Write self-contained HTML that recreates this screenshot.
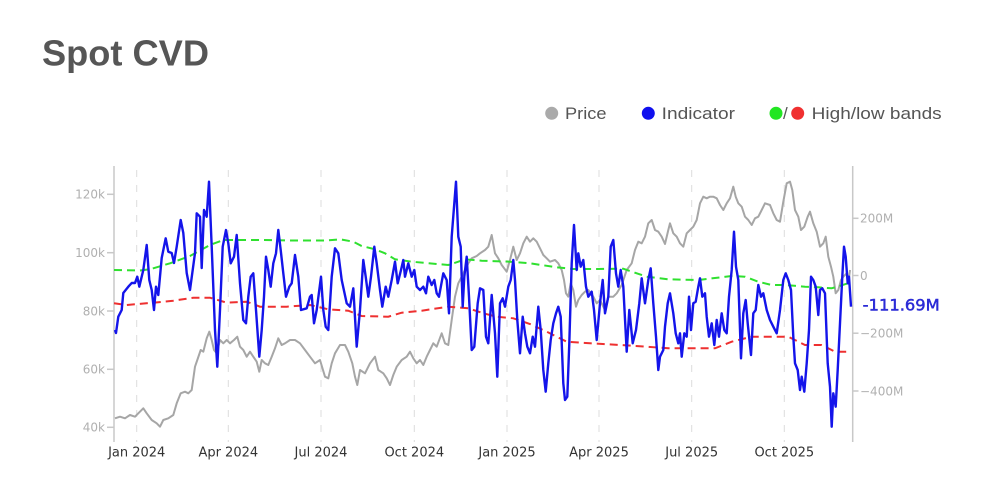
<!DOCTYPE html>
<html>
<head>
<meta charset="utf-8">
<style>
html,body{margin:0;padding:0;background:#fff;}
body{width:992px;height:496px;overflow:hidden;}
svg{display:block;}
</style>
</head>
<body>
<svg width="992" height="496" viewBox="0 0 992 496" xmlns="http://www.w3.org/2000/svg">
<rect width="992" height="496" fill="#fff"/>
<text x="42" y="65.5" font-family="Liberation Sans, Arial, sans-serif" font-weight="bold" font-size="36" fill="#565656" textLength="167" lengthAdjust="spacingAndGlyphs">Spot CVD</text>

<!-- legend -->
<g font-family="Liberation Sans, Arial, sans-serif" font-size="17" fill="#555">
<circle cx="551.7" cy="113.3" r="6.5" fill="#aaaaaa"/>
<text x="565" y="119.2" textLength="41.5" lengthAdjust="spacingAndGlyphs">Price</text>
<circle cx="648.3" cy="113.3" r="6.5" fill="#1010ee"/>
<text x="661.7" y="119.2" textLength="73.3" lengthAdjust="spacingAndGlyphs">Indicator</text>
<circle cx="776" cy="113.3" r="6.5" fill="#22e622"/>
<text x="783" y="119.2">/</text>
<circle cx="797.7" cy="113.3" r="6.5" fill="#f03030"/>
<text x="811.7" y="119.2" textLength="130" lengthAdjust="spacingAndGlyphs">High/low bands</text>
</g>

<!-- gridlines -->
<g stroke="#dcdcdc" stroke-width="1" stroke-dasharray="7,8">
<line x1="136.7" y1="170" x2="136.7" y2="442"/>
<line x1="228.3" y1="170" x2="228.3" y2="442"/>
<line x1="321" y1="170" x2="321" y2="442"/>
<line x1="414.3" y1="170" x2="414.3" y2="442"/>
<line x1="507" y1="170" x2="507" y2="442"/>
<line x1="599" y1="170" x2="599" y2="442"/>
<line x1="691.7" y1="170" x2="691.7" y2="442"/>
<line x1="784.3" y1="170" x2="784.3" y2="442"/>
</g>

<!-- axes -->
<g stroke="#c8c8c8" stroke-width="1.5">
<line x1="114" y1="166" x2="114" y2="442"/>
<line x1="852.7" y1="166" x2="852.7" y2="442"/>
<line x1="107" y1="194.3" x2="114" y2="194.3"/>
<line x1="107" y1="252.7" x2="114" y2="252.7"/>
<line x1="107" y1="311" x2="114" y2="311"/>
<line x1="107" y1="369.3" x2="114" y2="369.3"/>
<line x1="107" y1="427.3" x2="114" y2="427.3"/>
<line x1="852.7" y1="218.3" x2="858.5" y2="218.3"/>
<line x1="852.7" y1="275.5" x2="858.5" y2="275.5"/>
<line x1="852.7" y1="333.2" x2="858.5" y2="333.2"/>
<line x1="852.7" y1="391" x2="858.5" y2="391"/>
</g>
<g font-family="DejaVu Sans, Verdana, sans-serif" font-size="12" fill="#b0b0b0">
<text x="105" y="198.6" text-anchor="end">120k</text>
<text x="105" y="257" text-anchor="end">100k</text>
<text x="105" y="315.3" text-anchor="end">80k</text>
<text x="105" y="373.6" text-anchor="end">60k</text>
<text x="105" y="431.6" text-anchor="end">40k</text>
<text x="860" y="222.6">200M</text>
<text x="860" y="279.8">0</text>
<text x="860" y="337.5">−200M</text>
<text x="860" y="395.3">−400M</text>
</g>
<g font-family="DejaVu Sans, Verdana, sans-serif" font-size="13" fill="#333" text-anchor="middle">
<text x="136.7" y="456.5">Jan 2024</text>
<text x="228.3" y="456.5">Apr 2024</text>
<text x="321" y="456.5">Jul 2024</text>
<text x="414.3" y="456.5">Oct 2024</text>
<text x="507" y="456.5">Jan 2025</text>
<text x="599" y="456.5">Apr 2025</text>
<text x="691.7" y="456.5">Jul 2025</text>
<text x="784.3" y="456.5">Oct 2025</text>
</g>

<!-- price -->
<polyline fill="none" stroke="#a6a6a6" stroke-width="2" stroke-linejoin="round" points="115,418.3 120,416.7 125,418.3 130,415 135,416.7 138.3,413.3 143.3,408.3 146.7,413.3 151.7,420 156.7,423.3 160,426.7 163.3,420 168.3,418.3 173.3,415 176.7,403.3 180.7,393.3 185,391.7 188.3,393.3 191.7,390 195,366.7 197.3,360 200.7,350 203.3,351.7 206.7,338.3 209.3,331.7 211.7,340 214,350 216.7,353.3 220,340 223.3,343.3 226.7,340 230,343.3 234,340 237.3,336.7 240,346.7 243.3,350 246.7,356.7 250,351.7 253.3,356.7 256.7,361.7 259.3,371.7 261.7,360 265,363.3 268.3,365 271.7,356.7 275,348.3 278.3,338.3 281.7,345 285,343.3 290,340 295,340 300,343.3 305,350 310,356.7 315,363.3 320,360 325,376.7 328.3,378.3 331.7,363.3 335,353.3 340,345 345,345 348.3,351.7 352.3,363.3 355,376.7 357.3,385 360,370 365,373.3 370,363.3 375,356.7 378.3,370 383.3,373.3 386.7,378.3 390,385 393.3,375 396.7,366.7 401.7,360 406.7,356.7 410,351.7 413.3,358.3 416.7,363.3 420,360 423.3,365 426.7,356.7 430,350 433.3,343.3 436.7,346.7 441.7,333.3 445,343.3 448.3,345 451.7,320 455,296.7 458.3,283.3 461.7,276.7 465,270 468.3,263.3 471.7,258.3 476.7,256 480,253.3 485,250 488.3,246.7 491.7,235 495,253.3 498.3,258.3 501.7,265 506.7,271.7 510,260 513.3,246.7 516.7,260 520,253.3 523.3,243.3 526.7,236.7 530,241.7 533.3,238.3 536.7,241.7 540,248.3 543.3,255 546.7,258.3 550,261.7 555,260 558.3,263.3 561.7,270 564,280 566,293.3 568.3,296.7 570.7,283.3 573.3,290 576,306.7 578.3,300 581.7,295 585,291.7 588.3,290 593.3,296.7 596.7,303.3 600,300 605,310 608.3,296.7 613.3,296.7 616.7,293.3 621.7,285 626.7,270 631.7,263.3 635,250 638.3,241.7 641.7,243.3 645,236.7 648.3,223.3 651.7,220 655,230 658.3,231.7 661.7,236.7 665,244 668.3,230 670,223.3 673.3,233.3 676.7,236.7 680,243.3 683.3,246.7 686.7,233.3 690,230 693.3,226.7 696.7,220 700,203.3 703.3,196.7 706.7,198.3 710,196.7 713.3,196.7 716.7,198.3 720,205 723.3,210 726.7,203.3 730,198.3 733.3,186.7 735.7,196.7 738.3,203.3 741.7,206.7 745,216.7 748.3,220 751.7,225 755,218.3 758.3,216.7 761.7,210 765,203.3 770,205 773.3,213.3 776.7,220 780,221.7 783.3,201.7 786.7,183.3 790,181.7 792.3,190 795,210 798.3,216.7 801,230 804.3,226.7 807.7,216.7 810,211.7 813.3,223.3 816.7,231.7 820,246.7 823.3,243.3 825.7,236.7 828.3,256.7 831,266.7 833.3,276.7 835.7,293.3 838.3,290 841,280 843.3,276.7 846.7,273.3 848.3,283.3 850,270"/>

<!-- bands -->
<polyline fill="none" stroke="#2fe02f" stroke-width="2" stroke-dasharray="8,5" points="114,270 140,270.5 150,269.3 170,263.3 190,256 210,245 223.3,240 260,240 293.3,240.5 326.7,240.5 340,239.3 353.3,241.7 361.7,246 375,249.3 385,253.3 395,259.3 411.7,261.7 448.3,265 458.3,261.7 465,259.3 481.7,260.7 510,261.7 530,263.3 556.7,267.3 573.3,269 596.7,269 623.3,268.7 636.7,273.3 646.7,276.7 668.3,279.3 698.3,280 731.7,276 745,276.7 758.3,281.7 771.7,285 785,285 805,286.7 818.3,287.3 831.7,288.3 850,282.7"/>
<polyline fill="none" stroke="#ee3030" stroke-width="2" stroke-dasharray="8,5" points="114,303.3 126.7,305 153.3,302.7 173.3,300.7 193.3,297.7 210,297.7 226.7,302.7 246.7,301.7 260,306.7 286.7,306.7 310,305 328.3,309.3 348.3,310.7 361.7,316 388.3,316.7 401.7,312.7 421.7,310.7 448.3,306.7 468.3,308.3 483.3,313.3 496.7,316.7 513.3,318.3 530,324 546.7,331.7 566.7,341.7 590,343.3 620,345 646.7,346.7 668.3,348.3 715,348.3 731.7,341.7 751.7,336.7 788.3,336.7 805,345 821.7,345 835,351.7 850,351.7"/>

<!-- indicator -->
<polyline fill="none" stroke="#1414ea" stroke-width="2.4" stroke-linejoin="round" points="115,330 116,333 118.3,316.7 121.7,310 123.3,293 128.3,286.7 131.7,283 135,283 137.3,276.7 139.3,286.7 143.3,270 146.7,245 149.3,280 151.7,290 154,310 156,286.7 158.3,295 161.7,258 165.7,238.3 168.3,251.7 171.7,253 174,263 176.7,246.7 180.7,220 183.3,233 186.7,273 190,290 195,253 196.7,213.3 200,216.7 201.7,268 204,210 206.7,216.7 209,181.7 211.7,246.7 215,330 217.3,366.7 220,310 222.7,246.7 226,230 228.3,243.3 230.7,263.3 234,256.7 236.7,235 240,283.3 243.3,320 246,323.3 248.3,296.7 250.7,276.7 253.3,273.3 256,310 259.3,356.7 261.7,330 264,296.7 266,256.7 268.3,270 270.7,286.7 273.3,263.3 276,253.3 278.3,230 280.7,250 283.3,273.3 286,296.7 289.3,286.7 291.7,283.3 295,255 298.3,276.7 301,310 306.7,308.3 310,296.7 311.7,295 314,323.3 316.7,310 321,276.7 323.3,310 325.7,326.7 328.3,330 331.7,276.7 335,248.3 338.3,253.3 341.7,280 346.7,303.3 350,306.7 353.3,288.3 356.7,346.7 360,310 363.3,260 365.7,276.7 368.3,296.7 371,276.7 374.3,246.7 376.7,263.3 380,290 382.3,306.7 385.7,286.7 388.3,296.7 391.7,280 395,261.7 397.7,283.3 401,270 403.3,260 405,276.7 408.3,263.3 411.7,276.7 414.3,270 416.7,286.7 420,290 423.3,286.7 426,293.3 428.3,276.7 431.7,285 434.3,280 436.7,293.3 439,296.7 443.3,273.3 446.7,280 449,313.3 451.7,236.7 454.3,203.3 456,181.7 458.3,236.7 460.7,246.7 462.7,306.7 464.3,276.7 466.7,256.7 469,296.7 471.7,350 474.3,346.7 477.7,303.3 480,288.3 483.3,290 486,336.7 488.3,343.3 491.7,295 495,333.3 497.3,376.7 500,303.3 502.7,298.3 505,306.7 508.3,286.7 510.7,280 513.3,260 515,280 517.3,320 520,353.3 522.7,316.7 525,333.3 527.3,346.7 530,353.3 532.7,336.7 535,346.7 538.3,306.7 540.7,330 543.3,370 545.7,391.7 548.3,363.3 550.7,340 553.3,323.3 556,313.3 558.3,306.7 560.7,316.7 563.3,383.3 565,400 567.3,396.7 569.3,343.3 571.7,263.3 574,225 576.7,270 578.3,253.3 580.7,266.7 583.3,260 586,286.7 588.3,296.7 591.7,291.7 594,310 596.7,340 600,303.3 602.7,280 605,313.3 608.3,296.7 610.7,246.7 613.3,240 616,273.3 618.3,286.7 620.7,270 623.3,286.7 626.7,351.7 629.3,310 632.7,343.3 636,330 639.3,303.3 641.7,278.3 645,303.3 648.3,280 650.7,268.3 653.3,303.3 656,336.7 658.3,370 660,356.7 663.3,350 665,326.7 667.7,303.3 670,293.3 673.3,313.3 675.7,333.3 678.3,343.3 680,333.3 681.7,356.7 684.3,333.3 686.7,336.7 689,296.7 691,330 693.3,303.3 695.7,301.7 698.3,286.7 700,278.3 702.3,296.7 705,293.3 706.7,316.7 709,336.7 711.7,323.3 714.3,345 716.7,320 719,336.7 721.7,313.3 724.3,330 726.7,333.3 729,296.7 731.7,270 734,231.7 736,266.7 738.3,280 741,358.3 743.3,313.3 745.7,300 747.7,323.3 751,355 753.3,313.3 755.7,310 758.3,285 761,296.7 763.3,293.3 766.7,310 770,320 773.3,326.7 776.7,333.3 780,310 783.3,280 785.7,273.3 788.3,280 791,290 793.3,336.7 795,363.3 797.7,370 800,390 801.7,376.7 804.3,391.7 806.7,363.3 809,330 811,276.7 813.3,280 815.7,286.7 818.3,315 820,290 822.3,288.3 825,293.3 827.7,363.3 830,386.7 831.7,426.7 833.3,393.3 835.7,406.7 837.7,370 840,323.3 842.3,276.7 844,246.7 845.7,256.7 847.7,283.3 849,276.7 851,306.7"/>

<text x="862.7" y="310.5" font-family="DejaVu Sans, Verdana, sans-serif" font-size="16" fill="#2b2bd6" stroke="#2b2bd6" stroke-width="0.5" textLength="77" lengthAdjust="spacingAndGlyphs">-111.69M</text>
</svg>
</body>
</html>
